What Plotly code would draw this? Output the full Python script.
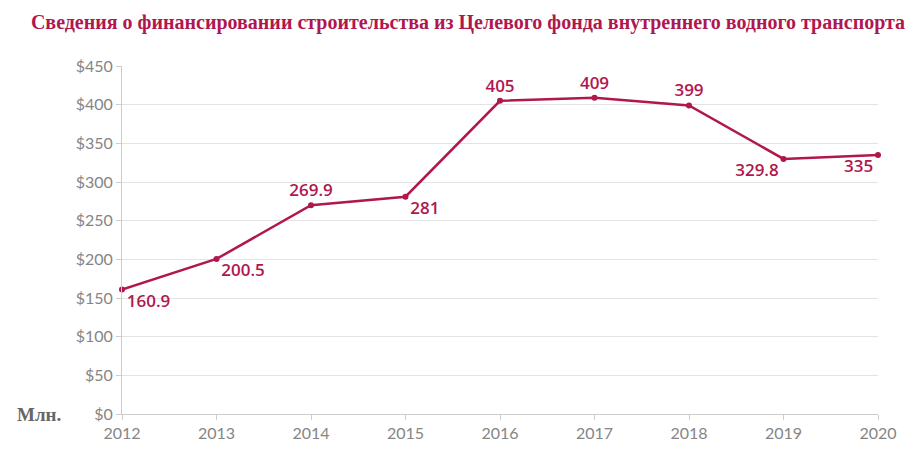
import plotly.graph_objects as go

# Data
years = [2012, 2013, 2014, 2015, 2016, 2017, 2018, 2019, 2020]
funding = [160.9, 200.5, 269.9, 281, 405, 409, 399, 329.8, 335]
labels = ["160.9", "200.5", "269.9", "281", "405", "409", "399", "329.8", "335"]
label_pos = ["bottom right", "bottom right", "top center", "bottom right",
             "top center", "top center", "top center", "bottom left", "bottom left"]

tick_vals = [0, 50, 100, 150, 200, 250, 300, 350, 400, 450]
tick_text = ["$" + str(v) for v in tick_vals]

main_color = "#b0174f"

fig = go.Figure()
fig.add_trace(go.Scatter(
    x=years,
    y=funding,
    mode="lines+markers+text",
    line=dict(color=main_color, width=2.5),
    marker=dict(color=main_color, size=6),
    text=labels,
    textposition=label_pos,
    textfont=dict(family="Open Sans", size=17, color=main_color, weight=600),
    cliponaxis=False,
    hoverinfo="x+y",
))

# page body adds an 8px offset, margins compensate for it
fig.update_layout(
    width=920,
    height=455,
    margin=dict(l=114, r=50, t=58, b=49),
    plot_bgcolor="white",
    paper_bgcolor="white",
    showlegend=False,
    title=dict(
        text="<b>Сведения о финансировании строительства из Целевого фонда внутреннего водного транспорта</b>",
        font=dict(family="Liberation Serif", size=20, color=main_color),
        x=0.5, xanchor="center", y=0.969, yanchor="middle",
    ),
)

fig.update_xaxes(
    range=[2012, 2020],
    tickvals=years,
    showgrid=False,
    showline=True,
    linecolor="#cccccc",
    linewidth=1,
    ticks="outside",
    ticklen=5,
    tickcolor="#cccccc",
    tickfont=dict(family="Lato", size=16, color="#858585"),
    zeroline=False,
)
fig.update_yaxes(
    range=[0, 450],
    tickvals=tick_vals,
    ticktext=tick_text,
    showgrid=True,
    gridcolor="#e3e3e3",
    showline=True,
    linecolor="#cccccc",
    ticks="outside",
    ticklen=5,
    tickcolor="#cccccc",
    tickfont=dict(family="Lato", size=16, color="#858585"),
    zeroline=False,
)

fig.add_annotation(
    text="<b>Млн.</b>", xref="paper", yref="paper", x=-0.0775, y=0,
    xanchor="right", yanchor="middle", showarrow=False,
    font=dict(family="Liberation Serif", size=19, color="#666666"),
)

fig.write_html("out.html")
